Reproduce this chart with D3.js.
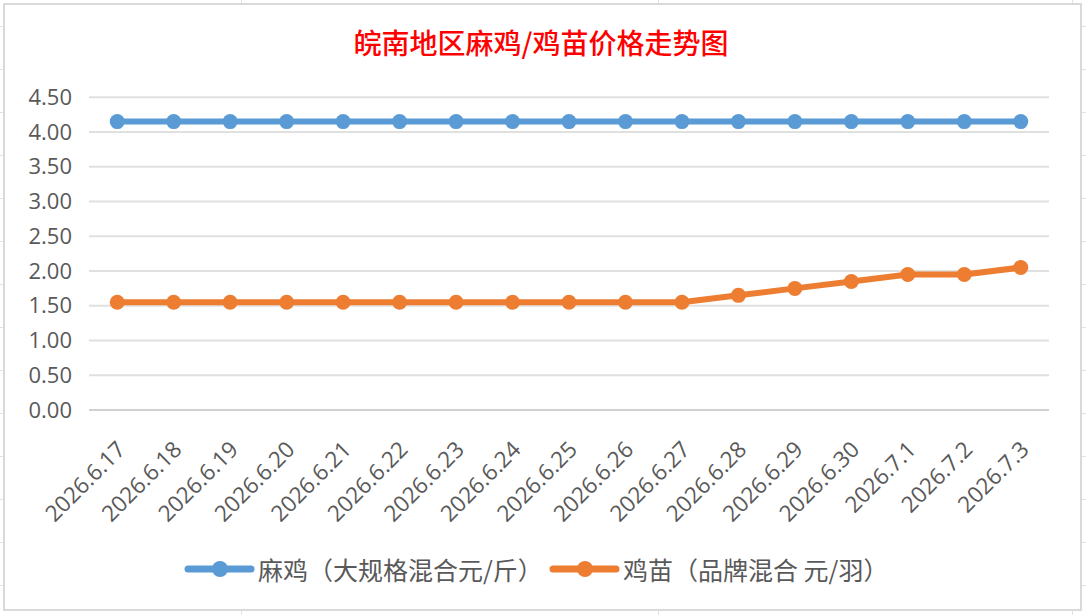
<!DOCTYPE html>
<html>
<head>
<meta charset="utf-8">
<script src="https://cdn.jsdelivr.net/npm/d3@7"></script>
<style>
  body { margin: 0; background: #fff; }
  svg { display: block; }
</style>
</head>
<body>
<svg id="fig" width="1086" height="615"></svg>
<script>
// chart data
const dates = ["2026.6.17", "2026.6.18", "2026.6.19", "2026.6.20", "2026.6.21", "2026.6.22",
    "2026.6.23", "2026.6.24", "2026.6.25", "2026.6.26", "2026.6.27", "2026.6.28",
    "2026.6.29", "2026.6.30", "2026.7.1", "2026.7.2", "2026.7.3"];
const majiPrice = [4.15, 4.15, 4.15, 4.15, 4.15, 4.15, 4.15, 4.15, 4.15, 4.15, 4.15,
    4.15, 4.15, 4.15, 4.15, 4.15, 4.15];
const jimiaoPrice = [1.55, 1.55, 1.55, 1.55, 1.55, 1.55, 1.55, 1.55, 1.55, 1.55, 1.55,
    1.65, 1.75, 1.85, 1.95, 1.95, 2.05];
const yTicks = [0, 0.5, 1, 1.5, 2, 2.5, 3, 3.5, 4, 4.5];
const seriesNames = ["麻鸡（大规格混合元/斤）", "鸡苗（品牌混合 元/羽）"];
const seriesColors = ["#5B9BD5", "#ED7D31"];
const title = "皖南地区麻鸡/鸡苗价格走势图";

const W = 1086, H = 615;
const svg = d3.select("#fig");

// spreadsheet cells behind the chart object
const sheet = svg.append("g").attr("stroke", "#E2E2E2").attr("stroke-width", 1);
sheet.selectAll("line.row")
    .data(d3.range(26, H, 43))
    .enter().append("line")
    .attr("x1", 0).attr("x2", W)
    .attr("y1", d => d + 0.5).attr("y2", d => d + 0.5);
sheet.selectAll("line.col")
    .data([241, 658, 1072])
    .enter().append("line")
    .attr("y1", 0).attr("y2", H)
    .attr("x1", d => d + 0.5).attr("x2", d => d + 0.5);

// chart frame
svg.append("rect")
    .attr("x", 4).attr("y", 4)
    .attr("width", 1077).attr("height", 606)
    .attr("fill", "#fff")
    .attr("stroke", "#D9D9D9")
    .attr("stroke-width", 2);

svg.append("text")
    .attr("x", 541).attr("y", 42)
    .attr("text-anchor", "middle")
    .attr("dominant-baseline", "central")
    .attr("fill", "#FF0000")
    .style("font-family", "'Noto Sans CJK SC', sans-serif")
    .style("font-size", "28px")
    .style("font-weight", 500)
    .text(title);

const plot = {left: 89, right: 1049, top: 97.3, bottom: 410};

const xScale = d3.scalePoint()
    .domain(dates)
    .range([plot.left, plot.right])
    .padding(0.5);

const yScale = d3.scaleLinear()
    .domain([0, 4.5])
    .range([plot.bottom, plot.top]);

// horizontal gridlines
svg.append("g")
    .selectAll("line")
    .data(yTicks)
    .enter().append("line")
    .attr("x1", plot.left).attr("x2", plot.right)
    .attr("y1", d => yScale(d)).attr("y2", d => yScale(d))
    .attr("stroke", d => d === 0 ? "#D0D0D0" : "#E0E0E0")
    .attr("stroke-width", 2);

// y axis labels
const yAxis = d3.axisLeft(yScale)
    .tickValues(yTicks)
    .tickFormat(d3.format(".2f"))
    .tickSize(0)
    .tickPadding(0);
const yAxisG = svg.append("g")
    .attr("transform", `translate(72,0)`)
    .call(yAxis);
yAxisG.select(".domain").remove();
yAxisG.selectAll("text")
    .attr("fill", "#595959")
    .style("font-family", "'Open Sans', sans-serif")
    .style("font-size", "22px");

// x axis labels, rotated
const xAxis = d3.axisBottom(xScale).tickSize(0).tickPadding(0);
const xAxisG = svg.append("g")
    .attr("transform", `translate(0,${plot.bottom})`)
    .call(xAxis);
xAxisG.select(".domain").remove();
xAxisG.selectAll("text")
    .attr("fill", "#595959")
    .attr("text-anchor", "end")
    .attr("dy", 0)
    .attr("y", 0)
    .attr("transform", "translate(9,41) rotate(-45)")
    .style("font-family", "'Open Sans', sans-serif")
    .style("font-size", "22.5px");

// series
const allSeries = [majiPrice, jimiaoPrice];
const line = d3.line()
    .x((d, i) => xScale(dates[i]))
    .y(d => yScale(d));

allSeries.forEach((values, k) => {
    svg.append("path")
        .datum(values)
        .attr("d", line)
        .attr("fill", "none")
        .attr("stroke", seriesColors[k])
        .attr("stroke-width", 6)
        .attr("stroke-linejoin", "round");
    svg.append("g")
        .selectAll("circle")
        .data(values)
        .enter().append("circle")
        .attr("cx", (d, i) => xScale(dates[i]))
        .attr("cy", d => yScale(d))
        .attr("r", 7.5)
        .attr("fill", seriesColors[k]);
});

// legend
const legendX = [188, 553];
const legend = svg.append("g").attr("transform", "translate(0,569)");
const item = legend.selectAll("g")
    .data(seriesNames)
    .enter().append("g")
    .attr("transform", (d, i) => `translate(${legendX[i]},0)`);
item.append("line")
    .attr("x1", 0).attr("x2", 63)
    .attr("y1", 0).attr("y2", 0)
    .attr("stroke", (d, i) => seriesColors[i])
    .attr("stroke-width", 7)
    .attr("stroke-linecap", "round");
item.append("circle")
    .attr("cx", 32).attr("cy", 0).attr("r", 8)
    .attr("fill", (d, i) => seriesColors[i]);
item.append("text")
    .attr("x", 70).attr("y", 0)
    .attr("dominant-baseline", "central")
    .attr("fill", "#595959")
    .style("font-family", "'Noto Sans CJK SC', sans-serif")
    .style("font-size", "25px")
    .text(d => d);
</script>
</body>
</html>
